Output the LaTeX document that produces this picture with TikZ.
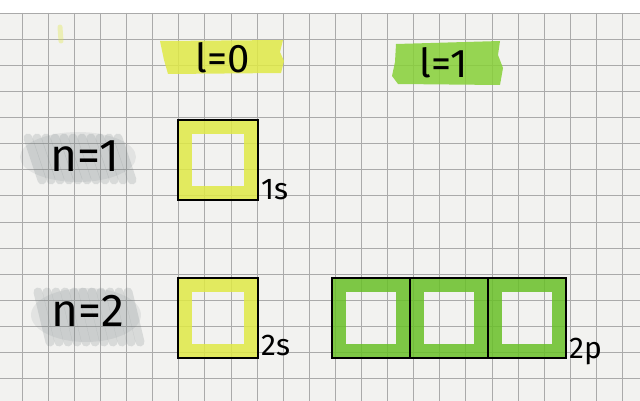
\documentclass[tikz,border=0pt]{standalone}
\usepackage{fontspec}
\setmainfont{Fira Sans}
\usetikzlibrary{positioning}
\definecolor{paper}{RGB}{242,242,240}
\definecolor{gridline}{RGB}{170,170,170}
\definecolor{hlyellow}{RGB}{224,233,70}
\definecolor{hlgreen}{RGB}{135,208,55}
\definecolor{boxgreen}{RGB}{105,192,40}
\definecolor{smudgegray}{RGB}{115,125,128}

\tikzset{
  orbital/.style={draw=black, line width=2.2pt, outer sep=0pt, inner sep=0pt,
    minimum width=80pt, minimum height=80pt,
    path picture={\draw[#1, line width=14pt, opacity=.85]
      ([shift={(7pt,7pt)}]path picture bounding box.south west) rectangle
      ([shift={(-7pt,-7pt)}]path picture bounding box.north east);}},
  sublabel/.style={inner sep=0pt, font=\fontsize{30}{30}\selectfont},
  lhead/.style={inner sep=0pt, font=\fontsize{40}{40}\selectfont},
  nhead/.style={inner sep=0pt, font=\fontsize{46}{46}\selectfont},
  smudge/.style={smudgegray, line width=9pt, opacity=.2, line cap=round}
}

\begin{document}
\begin{tikzpicture}[x=1pt, y=-1pt]
  \useasboundingbox (0,0) rectangle (640,401);
  % paper and grid
  \fill[white] (0,0) rectangle (640,13);
  \fill[paper] (0,13) rectangle (640,401);
  \foreach \i in {0,...,23}
    \draw[gridline, line width=.6pt] ({22+26.1*\i},13) -- ({22+26.1*\i},401);
  \foreach \j in {0,...,14}
    \draw[gridline, line width=.6pt] (0,{13+26.1*\j}) -- (640,{13+26.1*\j});
  \draw[hlyellow, line width=5pt, opacity=.35, line cap=round] (60,27) -- (61,41);

  % highlighter under the l labels
  \fill[hlyellow, opacity=.85] (160,41) -- (283,40) -- (280,52) -- (284,61) -- (281,73)
    -- (168,74) -- (164,60) -- cycle;
  \fill[hlgreen, opacity=.85] (396,44) -- (500,41) -- (498,55) -- (503,68) -- (500,85)
    -- (398,84) -- (392,76) -- (395,62) -- cycle;

  % pencil smudges under the n labels
  \fill[smudgegray, opacity=.12] (78,157) ellipse [x radius=58, y radius=25];
  \foreach \k in {0,...,10}
    \draw[smudge] ({28+9*\k},138) -- ({42+9*\k},180);
  \fill[smudgegray, opacity=.12] (86,315) ellipse [x radius=55, y radius=27];
  \foreach \k in {0,...,10}
    \draw[smudge] ({38+9*\k},292) -- ({50+9*\k},342);

  % headers
  \node[lhead] (l0) at (223,58) {l=0};
  \node[lhead] (l1) at (444,63) {l=1};
  \node[nhead] (n1) at (85,156) {n=1};
  \node[nhead] (n2) at (88,311) {n=2};

  % orbital boxes
  \node[orbital=hlyellow] (s1) at (218,160) {};
  \node[orbital=hlyellow] (s2) at (218,318) {};
  \node[orbital=boxgreen, minimum width=78pt] (p1) at (371,318) {};
  \node[orbital=boxgreen, minimum width=78pt, right=0pt of p1] (p2) {};
  \node[orbital=boxgreen, minimum width=78pt, right=0pt of p2] (p3) {};

  % subshell names
  \node[sublabel, right=3pt of s1.south east, anchor=base west] (s1name) {1s};
  \node[sublabel, right=3pt of s2.south east, anchor=base west, yshift=3pt] (s2name) {2s};
  \node[sublabel, right=3pt of p3.south east, anchor=base west] (p3name) {2p};
\end{tikzpicture}
\end{document}
